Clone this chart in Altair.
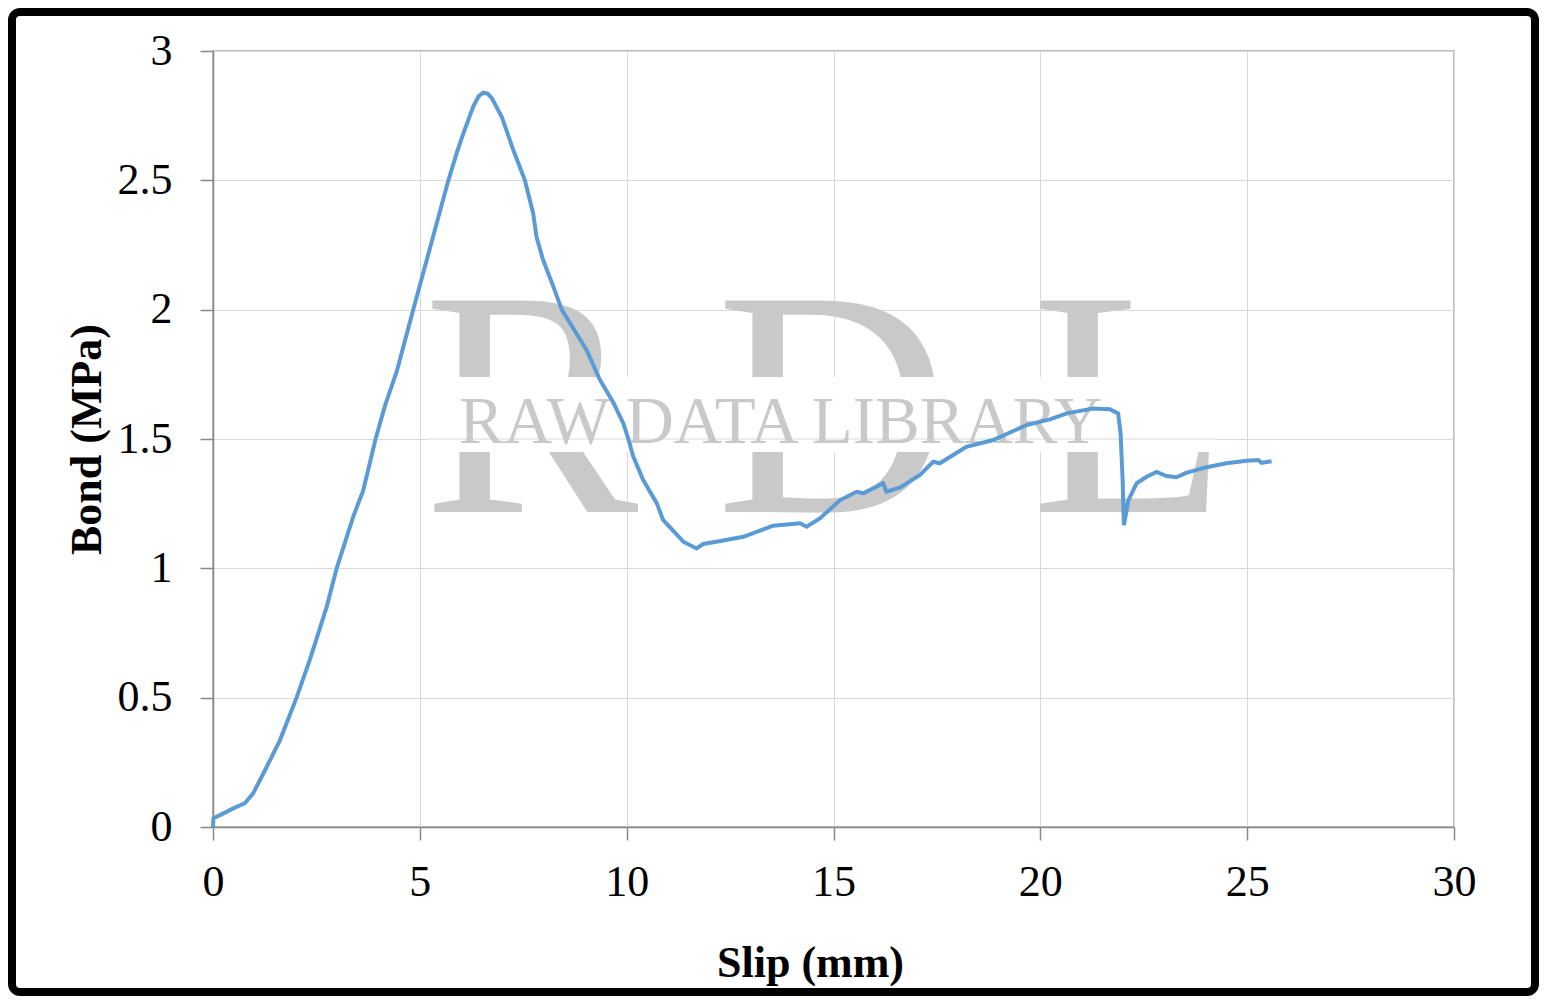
import altair as alt
import pandas as pd

# Slip (mm) and bond stress (MPa)
slip = [0, 0.01, 0.17, 0.49, 0.77, 0.97, 1.30, 1.62, 2.02, 2.34, 2.75, 2.99, 3.39, 3.63,
        3.93, 4.16, 4.44, 4.84, 5.30, 5.69, 5.90, 6.05, 6.29, 6.42, 6.53, 6.64, 6.74, 6.98,
        7.26, 7.54, 7.74, 7.82, 7.98, 8.23, 8.43, 9.03, 9.35, 9.68, 9.92, 10.04, 10.16,
        10.40, 10.73, 10.88, 11.37, 11.69, 11.85, 12.17, 12.82, 13.54, 14.19, 14.35, 14.67,
        15.16, 15.56, 15.72, 16.20, 16.28, 16.61, 17.09, 17.41, 17.57, 18.21, 18.86, 19.67,
        20.23, 20.64, 21.28, 21.68, 21.88, 21.94, 21.99, 22.02, 22.13, 22.33, 22.57, 22.81,
        23.05, 23.29, 23.54, 24.02, 24.50, 24.99, 25.27, 25.35, 25.59]
bond = [0, 0.034, 0.046, 0.072, 0.092, 0.13, 0.233, 0.336, 0.5, 0.646, 0.852, 1.0, 1.2, 1.30,
        1.5, 1.63, 1.76, 2.0, 2.27, 2.5, 2.61, 2.68, 2.785, 2.825, 2.839, 2.835, 2.818, 2.746,
        2.617, 2.5, 2.372, 2.282, 2.192, 2.088, 2.0, 1.844, 1.73, 1.64, 1.56, 1.5, 1.432,
        1.341, 1.251, 1.187, 1.103, 1.077, 1.094, 1.103, 1.122, 1.165, 1.174, 1.161, 1.193,
        1.264, 1.296, 1.29, 1.329, 1.296, 1.313, 1.361, 1.412, 1.406, 1.470, 1.496, 1.554,
        1.576, 1.599, 1.618, 1.615, 1.599, 1.522, 1.341, 1.167, 1.264, 1.329, 1.354, 1.373,
        1.357, 1.352, 1.370, 1.391, 1.406, 1.416, 1.419, 1.408, 1.414]

x_ticks = [0, 5, 10, 15, 20, 25, 30]
y_ticks = [0, 0.5, 1, 1.5, 2, 2.5, 3]

df = pd.DataFrame({"slip": slip, "bond": bond, "order": list(range(len(slip)))})
one = pd.DataFrame({"k": [0]})

FONT = "Liberation Serif"
W, H = 1241, 776
PL, PT, PR, PB = 205, 43, 85, 169

x_enc = alt.X("slip:Q", scale=alt.Scale(domain=[0, 30], nice=False),
              axis=alt.Axis(values=x_ticks, title="Slip (mm)", labelFlush=False,
                            labelOverlap=False, tickSize=13, labelPadding=20,
                            titleX=597, titleY=149, titleBaseline="alphabetic",
                            titleAlign="center"))
y_enc = alt.Y("bond:Q", scale=alt.Scale(domain=[0, 3], nice=False),
              axis=alt.Axis(values=y_ticks, title="Bond (MPa)", labelFlush=False,
                            labelOverlap=False, tickSize=13, labelPadding=28,
                            labelExpr="'' + datum.value",
                            titleX=-113, titleY=388, titleBaseline="alphabetic",
                            titleAlign="center"))

wm_color = "#c9c9c9"
big = []
for letter, xpos in [("R", 210), ("D", 503), ("L", 818)]:
    big.append(alt.Chart(one).mark_text(text=letter, font=FONT, fontSize=323,
                                        color=wm_color, align="left",
                                        baseline="alphabetic")
               .encode(x=alt.value(xpos), y=alt.value(461)))

band = alt.Chart(one).mark_rect(color="white").encode(
    x=alt.value(215), x2=alt.value(1002), y=alt.value(326), y2=alt.value(401))

grid15 = alt.Chart(one).mark_rule(color="#d9d9d9", strokeWidth=1).encode(
    x=alt.value(215), x2=alt.value(1002), y=alt.value(H * 0.5))

wm_text = alt.Chart(one).mark_text(text="RAW DATA LIBRARY", font=FONT, fontSize=67,
                                   color=wm_color, align="left",
                                   baseline="alphabetic").encode(
    x=alt.value(246), y=alt.value(392))

line = alt.Chart(df).mark_line(color="#5b9bd5", strokeWidth=4).encode(
    x=x_enc, y=y_enc, order="order:Q")

frame = alt.Chart(one).mark_rect(fill="transparent", stroke="black", strokeWidth=8,
                                 cornerRadius=8).encode(
    x=alt.value(-PL + 4), x2=alt.value(W + PR - 4),
    y=alt.value(-PT + 4), y2=alt.value(H + PB - 4))

chart = alt.layer(*big, band, grid15, wm_text, line, frame).properties(
    width=W, height=H, autosize=alt.AutoSizeParams(type="none"),
    padding={"left": PL, "top": PT, "right": PR, "bottom": PB},
    background="white",
).configure_view(stroke="#a6a6a6", strokeWidth=1.5).configure_axis(
    domainColor="#898989", domainWidth=1.5, tickColor="#898989", tickWidth=1.5,
    gridColor="#d9d9d9", gridWidth=1,
    labelFont=FONT, labelFontSize=44, labelColor="black",
    titleFont=FONT, titleFontSize=44, titleFontWeight="bold", titleColor="black",
)

chart.save("out.html", embed_options={"renderer": "svg", "actions": False})
